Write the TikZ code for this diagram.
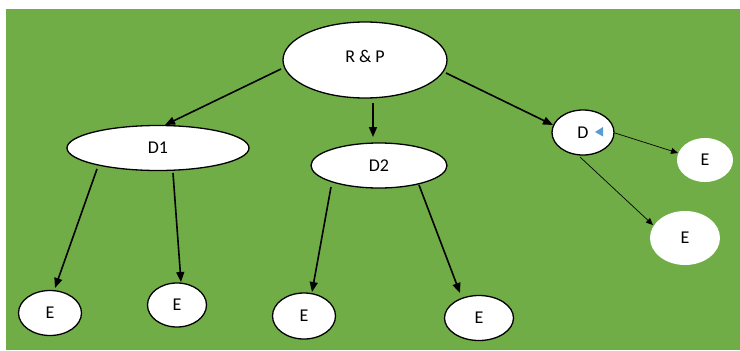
\documentclass[tikz,border=0pt]{standalone}
\usepackage{fontspec}
\setmainfont{Carlito}
\usetikzlibrary{shapes.geometric,arrows.meta,calc}
\definecolor{bggreen}{HTML}{70AD47}
\definecolor{tri}{HTML}{5B9BD5}
\tikzset{
  oval/.style={ellipse,draw=black,line width=1.3pt,fill=white,inner sep=0pt,font=\fontsize{18}{20}\selectfont},
  ovalnb/.style={ellipse,fill=white,inner sep=0pt,font=\fontsize{18}{20}\selectfont},
  arr/.style={line width=1.6pt,-{Triangle[length=10pt,width=8pt]}},
  thinarr/.style={line width=0.7pt,-{Triangle[length=7pt,width=6pt]}}
}
\begin{document}
\begin{tikzpicture}[x=1pt,y=-1pt]
\useasboundingbox (0,0) rectangle (740,351);
\fill[bggreen] (6,9) rectangle (740,350);
\node[oval,minimum width=164pt,minimum height=76pt] (rp) at (365,60) {\raisebox{7pt}{R \& P}};
\node[oval,minimum width=182pt,minimum height=45pt] (d1) at (158,148) {\raisebox{-3pt}{D1}};
\node[oval,minimum width=136pt,minimum height=45pt] (d2) at (379,165.5) {\raisebox{-3pt}{D2}};
\node[oval,minimum width=62pt,minimum height=45pt] (d) at (583,132.5) {\raisebox{-3pt}{D}};
\node[ovalnb,minimum width=56pt,minimum height=44pt] (ea) at (705,160) {\raisebox{-3pt}{E}};
\node[ovalnb,minimum width=70pt,minimum height=54pt] (eb) at (685,238) {\raisebox{-3pt}{E}};
\node[oval,minimum width=63pt,minimum height=45pt] (e1) at (50,313) {\raisebox{-4pt}{E}};
\node[oval,minimum width=59pt,minimum height=44pt] (e2) at (177,305) {\raisebox{-2pt}{E}};
\node[oval,minimum width=63pt,minimum height=46pt] (e3) at (304,316) {\raisebox{-4pt}{E}};
\node[oval,minimum width=69pt,minimum height=45pt] (e4) at (479,318) {\raisebox{-4pt}{E}};
\fill[tri] ($(d)+(12,-0.5)$) -- ($(d)+(20,-5.5)$) -- ($(d)+(20,4)$) -- cycle;
\draw[arr] ($(rp)+(-84,9)$) -- ($(d1)+(7,-23)$);
\draw[arr] ($(rp)+(8,43)$) -- ($(d2)+(-6,-28.5)$);
\draw[arr] ($(rp)+(81,13)$) -- ($(d)+(-30,-7.5)$);
\draw[arr] ($(d1)+(-61,21)$) -- ($(e1)+(5,-25)$);
\draw[arr] ($(d1)+(15,25)$) -- ($(e2)+(4,-23)$);
\draw[arr] ($(d2)+(-48,21.5)$) -- ($(e3)+(8,-24)$);
\draw[arr] ($(d2)+(40,19.5)$) -- ($(e4)+(-19,-25)$);
\draw[thinarr] ($(d)+(32,0.5)$) -- ($(ea)+(-27,-7)$);
\draw[thinarr] ($(d)+(-3,24.5)$) -- ($(eb)+(-32,-13)$);
\end{tikzpicture}
\end{document}
